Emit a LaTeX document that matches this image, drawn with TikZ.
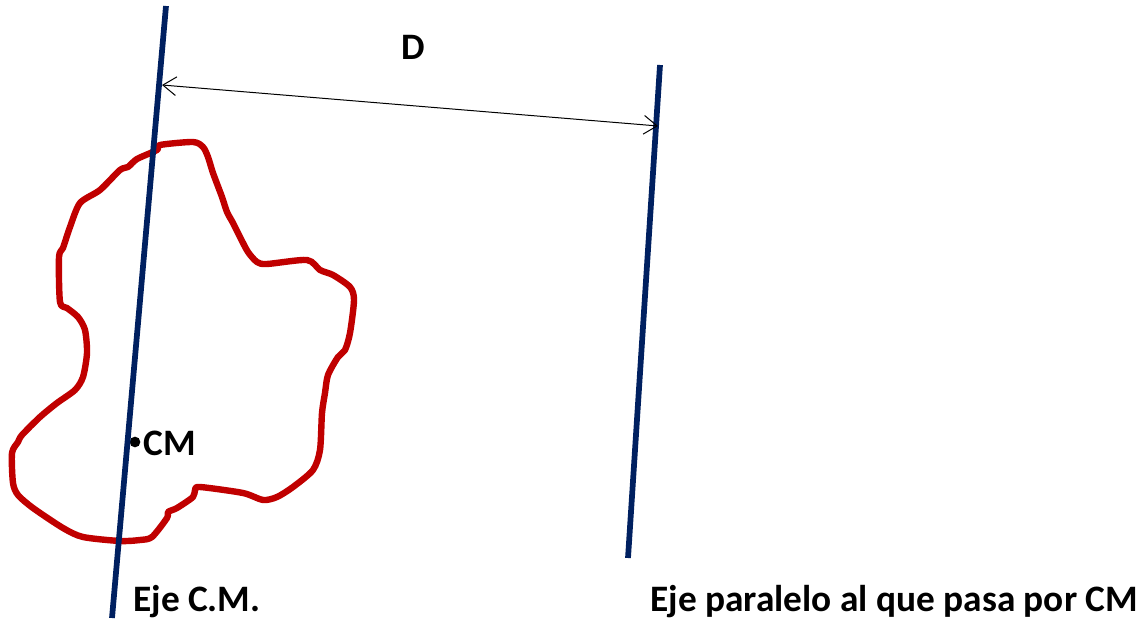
\documentclass[tikz,border=0pt]{standalone}
\usepackage{fontspec}
\setmainfont{Carlito}
\usetikzlibrary{arrows.meta}
\definecolor{axisblue}{HTML}{002060}
\definecolor{blobred}{HTML}{C00000}
\begin{document}
\begin{tikzpicture}[x=0.75pt,y=-0.75pt,
  axisline/.style={draw=axisblue,line width=4.3pt},
  blob/.style={draw=blobred,line width=4.8pt,line join=round},
  label/.style={font=\bfseries\fontsize{28}{32}\selectfont,inner sep=0pt},
  dimarrow/.style={draw=black,line width=0.75pt,{Straight Barb[length=10pt,width=14pt]}-{Straight Barb[length=10pt,width=14pt]}}]
\useasboundingbox (0,0) rectangle (1142,620);
% axes
\coordinate (l1) at (166,6);
\coordinate (l2) at (112,618);
\coordinate (r1) at (660,65);
\coordinate (r2) at (628,558);
% blob
\draw[blob] plot[smooth cycle,tension=0.45] coordinates {
(160,145) (193,142) (203,147) (208,157) (213,173) (222,197) (227,212)
(233,223) (240,237) (248,252) (257,262) (267,264) (307,260) (320,270)
(333,275) (350,287) (354,300) (350,333) (345,350) (338,357) (328,375)
(325,393) (322,413) (320,450) (313,470) (293,487) (277,497) (263,500)
(243,493) (200,487) (195,490) (193,497) (177,508) (168,512) (167,518)
(152,537) (140,540) (120,541) (83,537) (63,528) (33,508) (18,495)
(13,483) (12,453) (18,442) (22,435) (40,417) (57,403) (75,390) (83,377)
(87,353) (85,330) (78,317) (67,308) (60,302) (59,257) (63,248) (70,227)
(80,203) (100,190) (120,170) (128,167) (137,159) (157,150)};
% CM dot
\fill (135,442) circle (4pt);
\draw[axisline] (l1) -- (l2);
\draw[axisline] (r1) -- (r2);
% dimension
\coordinate (d1) at (162,85);
\coordinate (d2) at (658,126);
\draw[dimarrow] (d1) -- (d2);
\node[label] (dlab) at (413,47) {D};
\node[label,anchor=west] (cm) at (143,443) {CM};
\node[label,anchor=west] (ejecm) at (133,602) {Eje C.M.};
\node[label,anchor=west] (ejepar) at (650,602) {Eje paralelo al que pasa por CM};
\end{tikzpicture}
\end{document}
